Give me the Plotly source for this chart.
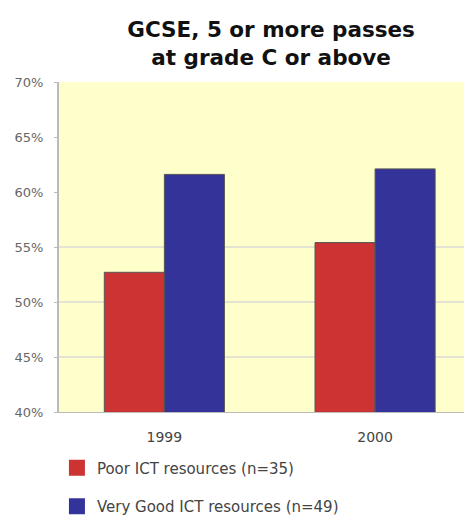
import plotly.graph_objects as go

# data
years = ["1999", "2000"]
poor_ict = [52.7, 55.4]
very_good_ict = [61.6, 62.1]
series_names = ["Poor ICT resources (n=35)", "Very Good ICT resources (n=49)"]
tick_vals = [40, 45, 50, 55, 60, 65, 70]
tick_text = [f"{v}%" for v in tick_vals]
grid_vals = [45, 50, 55]

red = "#CC3333"
blue = "#333399"

fig = go.Figure()
fig.add_trace(go.Bar(x=years, y=poor_ict, name=series_names[0], showlegend=False,
                     marker=dict(color=red, line=dict(color="#555555", width=1))))
fig.add_trace(go.Bar(x=years, y=very_good_ict, name=series_names[1], showlegend=False,
                     marker=dict(color=blue, line=dict(color="#555555", width=1))))

# bigger square legend keys
for name, col in zip(series_names, [red, blue]):
    fig.add_trace(go.Scatter(x=[None], y=[None], mode="markers", name=name, legendgroup=name,
                             marker=dict(symbol="square", size=20, color=col)))

for g in grid_vals:
    fig.add_hline(y=g, line=dict(color="#C8C8D8", width=1), layer="below")

# page body has an 8px margin; figure runs a little past the bottom of the window
fig.update_layout(
    width=464, height=515,
    margin=dict(l=51, r=0, t=74, b=111),
    paper_bgcolor="white",
    plot_bgcolor="#FFFFCC",
    barmode="group",
    bargap=0.43,
    bargroupgap=0,
    font=dict(family="DejaVu Sans", color="#555555"),
    title=dict(text="<b>GCSE, 5 or more passes<br>at grade C or above</b>",
               x=0.567, xanchor="center", y=0.943, yanchor="top",
               font=dict(family="DejaVu Sans", size=21.5, color="#111111")),
    legend=dict(x=-0.005, xanchor="left", y=-0.12, yanchor="top",
                traceorder="grouped", tracegroupgap=16,
                font=dict(size=15, color="#444444"), bgcolor="rgba(0,0,0,0)"),
)
fig.update_xaxes(range=[-0.5, 1.46], showline=True, linecolor="#BBBBBB", linewidth=1,
                 tickfont=dict(size=14, color="#444444"), ticks="", ticklabelstandoff=12)
fig.update_yaxes(range=[40, 70], tickvals=tick_vals, ticktext=tick_text, showgrid=False,
                 showline=True, linecolor="#BBBBBB", linewidth=2, zeroline=False,
                 ticks="outside", ticklen=3, tickcolor="#BBBBBB", ticklabelstandoff=8,
                 tickfont=dict(size=13, color="#666666"))

fig.write_html("out.html")
